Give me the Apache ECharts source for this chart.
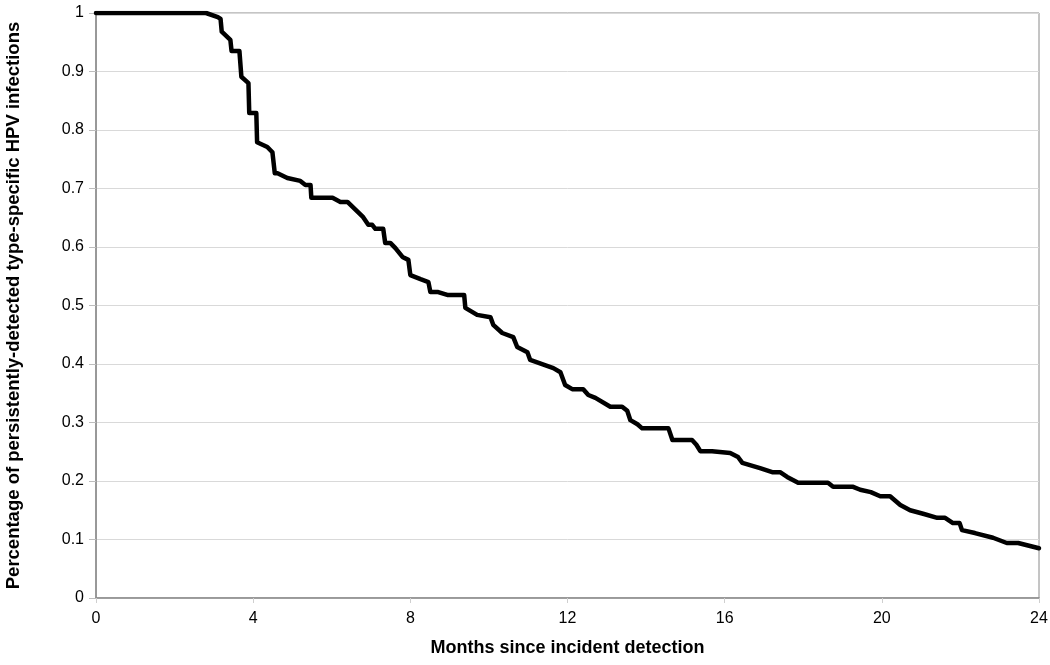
<!DOCTYPE html>
<html>
<head>
<meta charset="utf-8">
<script src="https://cdn.jsdelivr.net/npm/echarts@6/dist/echarts.min.js"></script>
<style>
html,body{margin:0;padding:0;background:#fff;}
#chart{width:1050px;height:665px;}
</style>
</head>
<body>
<div id="chart"></div>
<script>
// Months since incident detection
const months = [0, 2.8, 3.1, 3.17, 3.2, 3.42, 3.45, 3.65, 3.7, 3.88, 3.9, 4.08, 4.1, 4.36, 4.49, 4.55, 4.62, 4.87, 5.2, 5.33, 5.46, 5.48,
  6.02, 6.22, 6.40, 6.80, 6.93, 7.03, 7.11, 7.31, 7.36, 7.49, 7.62, 7.80, 7.95, 8.00, 8.26, 8.46, 8.51, 8.71, 8.94, 9.37, 9.40,
  9.70, 10.04, 10.11, 10.34, 10.62, 10.72, 10.98, 11.05, 11.64, 11.82, 11.94, 12.12, 12.40, 12.53, 12.71, 13.09, 13.39, 13.52,
  13.60, 13.78, 13.90, 14.57, 14.67, 15.17, 15.28, 15.38, 15.68, 16.14, 16.34, 16.45, 16.90, 17.21, 17.41, 17.59, 17.87, 18.63,
  18.76, 19.27, 19.45, 19.72, 19.96, 20.21, 20.47, 20.72, 21.05, 21.41, 21.61, 21.81, 21.98, 22.04, 22.37, 22.83, 23.18, 23.47, 24.0];
// Proportion still persistently detected
const persistence = [1.0, 1.0, 0.993, 0.99, 0.968, 0.954, 0.935, 0.935, 0.891, 0.88, 0.829, 0.829, 0.779, 0.771, 0.762, 0.726, 0.726, 0.718, 0.713, 0.706, 0.706, 0.684,
  0.684, 0.677, 0.677, 0.651, 0.638, 0.638, 0.631, 0.631, 0.607, 0.607, 0.598, 0.583, 0.578, 0.552, 0.545, 0.540, 0.523, 0.523, 0.518, 0.518, 0.496,
  0.484, 0.480, 0.467, 0.453, 0.446, 0.429, 0.420, 0.407, 0.393, 0.386, 0.364, 0.357, 0.357, 0.347, 0.342, 0.327, 0.327, 0.320,
  0.304, 0.297, 0.290, 0.290, 0.270, 0.270, 0.262, 0.251, 0.251, 0.248, 0.241, 0.231, 0.222, 0.215, 0.215, 0.207, 0.197, 0.197,
  0.190, 0.190, 0.185, 0.181, 0.174, 0.174, 0.159, 0.150, 0.144, 0.137, 0.137, 0.128, 0.128, 0.116, 0.111, 0.103, 0.094, 0.094, 0.085];
const xTicks = [0, 4, 8, 12, 16, 20, 24];
const yTicks = [0, 0.1, 0.2, 0.3, 0.4, 0.5, 0.6, 0.7, 0.8, 0.9, 1];

const chart = echarts.init(document.getElementById('chart'));
const font = '"Liberation Sans", Arial, sans-serif';
chart.setOption({
  animation: false,
  backgroundColor: '#ffffff',
  grid: {left: 96, right: 11, top: 13, bottom: 67, show: true, borderColor: '#8a8a8a', borderWidth: 1,
    containLabel: false, outerBoundsMode: 'none'},
  xAxis: {
    type: 'value', min: 0, max: 24, interval: 4,
    name: 'Months since incident detection', nameLocation: 'middle', nameGap: 41,
    nameTextStyle: {fontFamily: font, fontSize: 18, fontWeight: 'bold', color: '#000'},
    axisLine: {show: true, lineStyle: {color: '#8a8a8a', width: 1.5}},
    axisTick: {show: true, length: 5, lineStyle: {color: '#cfcfcf'}},
    axisLabel: {fontFamily: font, fontSize: 16, color: '#000', margin: 13,
      formatter: v => xTicks.includes(v) ? String(v) : ''},
    splitLine: {show: false}
  },
  yAxis: {
    type: 'value', min: 0, max: 1, interval: 0.1,
    name: 'Percentage of persistently-detected type-specific HPV infections', nameLocation: 'middle', nameGap: 73,
    nameTextStyle: {fontFamily: font, fontSize: 18.5, fontWeight: 'bold', color: '#000'},
    axisLine: {show: true, lineStyle: {color: '#8a8a8a', width: 1.5}},
    axisTick: {show: true, length: 7, inside: false, lineStyle: {color: '#bdbdbd'}},
    axisLabel: {fontFamily: font, fontSize: 16, color: '#000', margin: 12,
      formatter: v => { const r = Math.round(v * 10) / 10; return yTicks.includes(r) ? String(r) : ''; }},
    splitLine: {show: true, lineStyle: {color: '#d9d9d9', width: 1}}
  },
  series: [{
    type: 'line',
    data: months.map((m, i) => [m, persistence[i]]),
    showSymbol: false,
    lineStyle: {color: '#000', width: 4.5, join: 'round', cap: 'round'},
    z: 5
  }]
});
</script>
</body>
</html>
